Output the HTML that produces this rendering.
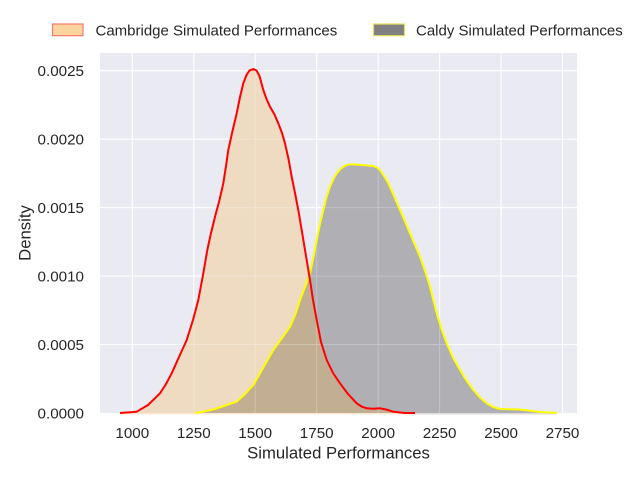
<!DOCTYPE html>
<html>
<head>
<meta charset="utf-8">
<style>
  html, body { margin: 0; padding: 0; background: #ffffff; }
  svg { display: block; }
  text { font-family: "Liberation Sans", Arial, sans-serif; fill: #262626; }
</style>
</head>
<body>
<svg width="640" height="480" viewBox="0 0 640 480" xmlns="http://www.w3.org/2000/svg" xmlns:xlink="http://www.w3.org/1999/xlink">
  <defs>
    <path id="redshape" d="M120,413 L136.7,411.7 L148,405 L160,393.3 L166,384 L171.7,373.3 L179,357 L186.7,340 L193,320 L198.3,300 L203,275 L207.3,250 L211,233 L215,216.7 L219.5,200 L223.3,183.3 L226,166 L228.3,150 L232.5,131 L236.7,113.3 L240,97 L243.3,83.3 L246.5,75 L249.5,70.5 L253.3,69 L256.5,70.5 L259.5,76 L263.3,90 L266.5,99 L270,106.7 L274.5,114.5 L278.3,123.3 L282,133 L285,143.3 L288.5,159 L291.7,176.7 L295,193 L298.3,210 L301.7,230 L305,250 L310,280 L313,300 L316.7,320 L321,342 L326.7,360 L333,373 L340,383.3 L348,394 L356.7,403.3 L361.5,406.5 L366.7,408.3 L373,408.8 L380,408.3 L386,409.5 L393.3,411.7 L405,413 L415,413 Z"/>
    <path id="greyshape" d="M195,413 L203.3,411.7 L215,409 L226.7,405 L236.7,401.7 L245,394 L253.3,385 L263,368 L273.3,350 L282,338 L290,326.7 L295.5,314 L300,300 L305,287 L310,273.3 L313.5,257 L316.7,240 L320,224 L323.3,210 L326.5,197 L330,186.7 L333.5,179 L336.7,173.3 L340,169.5 L343.3,166.7 L347,165 L350,164.3 L362,165 L373.3,166 L377,167.5 L380,170 L384,176 L388.3,183.3 L394,196 L400,210 L405,221.5 L410,233.3 L415,245 L420,256.7 L425,271 L430,286.7 L436.7,313.3 L441.5,329 L446.7,343.3 L453,357.5 L460,370 L466.5,380.5 L473.3,390 L480,397.5 L486.7,403.3 L493,407 L500,409 L520,409.5 L530,410.8 L540,412 L557,413 Z"/>
    <clipPath id="greyclip">
      <use href="#greyshape" xlink:href="#greyshape"/>
    </clipPath>
    <clipPath id="plotclip">
      <rect x="100" y="53" width="477" height="360.5"/>
    </clipPath>
  </defs>

  <!-- plot background -->
  <rect x="100" y="53" width="477" height="360" fill="#eaeaf2"/>

  <!-- grid -->
  <g stroke="#ffffff" stroke-width="1.1">
    <line x1="132.3" y1="53" x2="132.3" y2="413"/>
    <line x1="193.8" y1="53" x2="193.8" y2="413"/>
    <line x1="255.2" y1="53" x2="255.2" y2="413"/>
    <line x1="316.7" y1="53" x2="316.7" y2="413"/>
    <line x1="378.2" y1="53" x2="378.2" y2="413"/>
    <line x1="439.6" y1="53" x2="439.6" y2="413"/>
    <line x1="501.1" y1="53" x2="501.1" y2="413"/>
    <line x1="562.5" y1="53" x2="562.5" y2="413"/>
    <line x1="100" y1="344.5" x2="577" y2="344.5"/>
    <line x1="100" y1="276.1" x2="577" y2="276.1"/>
    <line x1="100" y1="207.6" x2="577" y2="207.6"/>
    <line x1="100" y1="139.2" x2="577" y2="139.2"/>
    <line x1="100" y1="70.7" x2="577" y2="70.7"/>
  </g>

  <!-- fills -->
  <use href="#redshape" xlink:href="#redshape" fill="#eedbc2"/>
  <use href="#greyshape" xlink:href="#greyshape" fill="#afafb4"/>
  <g clip-path="url(#greyclip)">
    <use href="#redshape" xlink:href="#redshape" fill="#c2ae93"/>
  </g>

  <!-- faint grid through fills -->
  <g stroke="#ffffff" stroke-width="1" opacity="0.25" clip-path="url(#plotclip)">
    <line x1="193.8" y1="53" x2="193.8" y2="413"/>
    <line x1="255.2" y1="53" x2="255.2" y2="413"/>
    <line x1="316.7" y1="53" x2="316.7" y2="413"/>
    <line x1="378.2" y1="53" x2="378.2" y2="413"/>
    <line x1="439.6" y1="53" x2="439.6" y2="413"/>
    <line x1="100" y1="344.5" x2="577" y2="344.5"/>
    <line x1="100" y1="276.1" x2="577" y2="276.1"/>
    <line x1="100" y1="207.6" x2="577" y2="207.6"/>
    <line x1="100" y1="139.2" x2="577" y2="139.2"/>
  </g>

  <!-- thin strips at base -->
  <rect x="120" y="413" width="295" height="1.5" fill="#fbe9d6"/>
  <rect x="415" y="413" width="142" height="1.5" fill="#dcdcdc"/>

  <!-- outlines -->
  <path fill="none" stroke="#ffff00" stroke-width="2" stroke-linejoin="round" d="M195,413 L203.3,411.7 L215,409 L226.7,405 L236.7,401.7 L245,394 L253.3,385 L263,368 L273.3,350 L282,338 L290,326.7 L295.5,314 L300,300 L305,287 L310,273.3 L313.5,257 L316.7,240 L320,224 L323.3,210 L326.5,197 L330,186.7 L333.5,179 L336.7,173.3 L340,169.5 L343.3,166.7 L347,165 L350,164.3 L362,165 L373.3,166 L377,167.5 L380,170 L384,176 L388.3,183.3 L394,196 L400,210 L405,221.5 L410,233.3 L415,245 L420,256.7 L425,271 L430,286.7 L436.7,313.3 L441.5,329 L446.7,343.3 L453,357.5 L460,370 L466.5,380.5 L473.3,390 L480,397.5 L486.7,403.3 L493,407 L500,409 L520,409.5 L530,410.8 L540,412 L557,413"/>
  <path fill="none" stroke="#ff0000" stroke-width="2" stroke-linejoin="round" d="M120,413 L136.7,411.7 L148,405 L160,393.3 L166,384 L171.7,373.3 L179,357 L186.7,340 L193,320 L198.3,300 L203,275 L207.3,250 L211,233 L215,216.7 L219.5,200 L223.3,183.3 L226,166 L228.3,150 L232.5,131 L236.7,113.3 L240,97 L243.3,83.3 L246.5,75 L249.5,70.5 L253.3,69 L256.5,70.5 L259.5,76 L263.3,90 L266.5,99 L270,106.7 L274.5,114.5 L278.3,123.3 L282,133 L285,143.3 L288.5,159 L291.7,176.7 L295,193 L298.3,210 L301.7,230 L305,250 L310,280 L313,300 L316.7,320 L321,342 L326.7,360 L333,373 L340,383.3 L348,394 L356.7,403.3 L361.5,406.5 L366.7,408.3 L373,408.8 L380,408.3 L386,409.5 L393.3,411.7 L405,413 L415,413"/>

  <!-- y tick labels -->
  <g font-size="15.2" text-anchor="end">
    <text x="84" y="418.5">0.0000</text>
    <text x="84" y="350">0.0005</text>
    <text x="84" y="281.6">0.0010</text>
    <text x="84" y="213.1">0.0015</text>
    <text x="84" y="144.7">0.0020</text>
    <text x="84" y="76.2">0.0025</text>
  </g>

  <!-- x tick labels -->
  <g font-size="15.2" text-anchor="middle">
    <text x="132.3" y="438">1000</text>
    <text x="193.8" y="438">1250</text>
    <text x="255.2" y="438">1500</text>
    <text x="316.7" y="438">1750</text>
    <text x="378.2" y="438">2000</text>
    <text x="439.6" y="438">2250</text>
    <text x="501.1" y="438">2500</text>
    <text x="562.5" y="438">2750</text>
  </g>

  <!-- axis labels -->
  <text x="338.5" y="458.7" font-size="16.7" text-anchor="middle">Simulated Performances</text>
  <text transform="translate(30.5,233) rotate(-90)" font-size="16.7" text-anchor="middle">Density</text>

  <!-- legend -->
  <rect x="52.5" y="24" width="30.5" height="11.7" fill="#fdd49e" stroke="#f47a6e" stroke-width="1.2"/>
  <text x="95.5" y="35.5" font-size="15">Cambridge Simulated Performances</text>
  <rect x="373.5" y="24" width="31" height="11.7" fill="#808080" stroke="#e6e05a" stroke-width="1.2"/>
  <text x="416" y="35.5" font-size="15">Caldy Simulated Performances</text>
</svg>
</body>
</html>
